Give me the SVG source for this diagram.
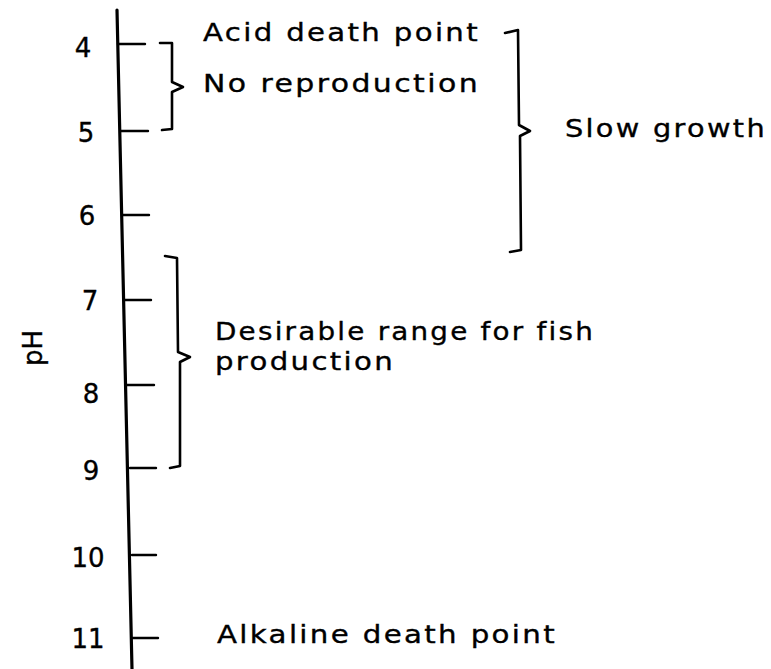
<svg xmlns="http://www.w3.org/2000/svg" width="771" height="669" viewBox="0 0 771 669">
<style>
text{font-family:"DejaVu Sans","Liberation Sans",sans-serif;fill:#000;stroke:#000;stroke-width:0.35}
.lbl{font-size:25px;letter-spacing:2px}
.num{font-size:26px;text-anchor:middle}
.ln{stroke:#000;fill:none;stroke-linecap:round;stroke-linejoin:round}
.axis{stroke-width:3.2}
.tick{stroke-width:2.4}
.br{stroke-width:2.6}
</style>
<rect width="771" height="669" fill="#fff"/>
<g id="axis">
<line class="ln axis" x1="117" y1="10" x2="132" y2="669"/>
<text x="0" y="0" class="num" transform="translate(42,348) rotate(-90)">pH</text>
</g>
<g id="ticks">
<line class="ln tick" x1="118" y1="44" x2="145" y2="44"/>
<line class="ln tick" x1="121" y1="131" x2="148" y2="131"/>
<line class="ln tick" x1="122" y1="215" x2="149" y2="215"/>
<line class="ln tick" x1="125" y1="300" x2="151" y2="300"/>
<line class="ln tick" x1="127" y1="385" x2="154" y2="385"/>
<line class="ln tick" x1="130" y1="468" x2="156" y2="468"/>
<line class="ln tick" x1="132" y1="555" x2="156" y2="555"/>
<line class="ln tick" x1="133" y1="638" x2="158" y2="638"/>
<text class="num" x="83" y="57">4</text>
<text class="num" x="86" y="142">5</text>
<text class="num" x="87" y="225">6</text>
<text class="num" x="90" y="310">7</text>
<text class="num" x="91" y="403">8</text>
<text class="num" x="91" y="480">9</text>
<text class="num" x="88" y="567">10</text>
<text class="num" x="88" y="648">11</text>
</g>
<g id="connectors">
<path class="ln br" d="M160,43 L172,43 L172,82 L183,87 L172,92 L172,129 L162,130"/>
<path class="ln br" d="M505,33 L518,30 L519,125 L530,131 L520,136 L521,250 L510,252"/>
<path class="ln br" d="M165,256 L177,258 L178,352 L190,357 L180,362 L180,466 L170,468"/>
</g>
<g id="acid-death">
<text class="lbl" x="203" y="41" textLength="277" lengthAdjust="spacingAndGlyphs">Acid death point</text>
</g>
<g id="no-reproduction">
<text class="lbl" x="203" y="92" textLength="277" lengthAdjust="spacingAndGlyphs">No reproduction</text>
</g>
<g id="slow-growth">
<text class="lbl" x="565" y="137" textLength="202" lengthAdjust="spacingAndGlyphs">Slow growth</text>
</g>
<g id="desirable">
<text class="lbl" x="215" y="340" textLength="380" lengthAdjust="spacingAndGlyphs">Desirable range for fish</text>
<text class="lbl" x="215" y="370" textLength="180" lengthAdjust="spacingAndGlyphs">production</text>
</g>
<g id="alkaline-death">
<text class="lbl" x="217" y="643" textLength="340" lengthAdjust="spacingAndGlyphs">Alkaline death point</text>
</g>
</svg>
